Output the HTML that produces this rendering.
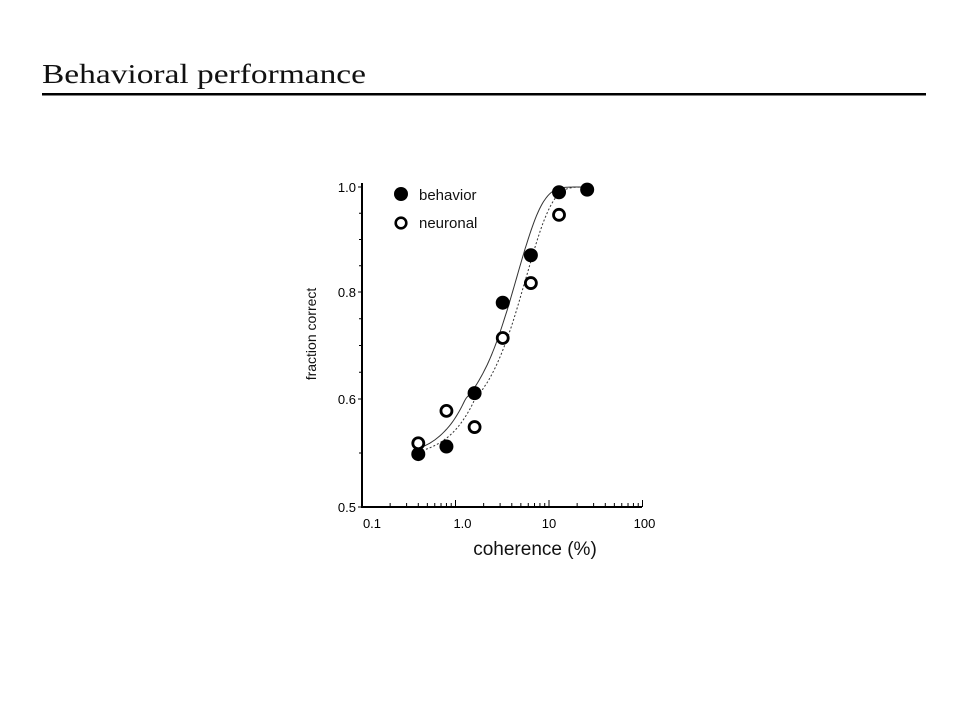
<!DOCTYPE html>
<html><head><meta charset="utf-8"><style>
html,body{margin:0;padding:0;background:#fff;}
svg{display:block;}
</style></head><body>
<svg id="chart" width="960" height="720" viewBox="0 0 960 720" xmlns="http://www.w3.org/2000/svg">
<text x="42" y="83" font-family="Liberation Serif, serif" font-size="27" fill="#111" textLength="324" lengthAdjust="spacingAndGlyphs">Behavioral performance</text>
<rect x="42" y="93" width="884" height="2.5" fill="#000"/>
<g id="plot"></g>
</svg>
<script>
const xTickValues = [0.1, 1, 10, 100];
const xTickLabels = ["0.1", "1.0", "10", "100"];
const yTickValues = [0.5, 0.6, 0.8, 1.0];
const yTickLabels = ["0.5", "0.6", "0.8", "1.0"];
const coherence = [0.4, 0.8, 1.6, 3.2, 6.4, 12.8, 25.6];
const behaviorValues = [0.549, 0.556, 0.611, 0.78, 0.87, 0.99, 0.995];
const neuronalCoherence = [0.4, 0.8, 1.6, 3.2, 6.4, 12.8];
const neuronalValues = [0.559, 0.589, 0.574, 0.714, 0.817, 0.947];
const behaviorFit = [4.6, 1.6];
const neuronalFit = [5.8, 1.6];

const NS = "http://www.w3.org/2000/svg";
const g = document.getElementById("plot");
const X0 = 362, DEC = 93.5;
function xScale(c){ return X0 + (Math.log10(c) + 1) * DEC; }
function yScale(v){
  const a=[[0.5,507],[0.6,399],[0.8,292],[1.0,187]];
  for(let i=0;i<a.length-1;i++){
    if(v<=a[i+1][0]||i===a.length-2){
      const t=(v-a[i][0])/(a[i+1][0]-a[i][0]);
      return a[i][1]+t*(a[i+1][1]-a[i][1]);
    }
  }
}
function mk(tag, attrs){ const e=document.createElementNS(NS,tag); for(const k in attrs) e.setAttribute(k,attrs[k]); g.appendChild(e); return e; }
const F = "Liberation Sans, sans-serif";

let ax = mk("line",{x1:X0,y1:183,x2:X0,y2:508,stroke:"#000","stroke-width":2});


ax = mk("line",{x1:X0-1,y1:507,x2:642,y2:507,stroke:"#000","stroke-width":2});



[0.55,0.65,0.7,0.75,0.85,0.9,0.95].forEach(v=>{
  const t=mk("line",{x1:X0-3,y1:yScale(v),x2:X0,y2:yScale(v),stroke:"#000","stroke-width":1});
  
  
});
yTickValues.forEach((v,i)=>{
  const t=mk("line",{x1:X0-4,y1:yScale(v),x2:X0,y2:yScale(v),stroke:"#000","stroke-width":1});
  
  
  const l=mk("text",{x:X0-6,y:yScale(v)+5,"text-anchor":"end","font-family":F,"font-size":13,fill:"#000"});
  l.textContent=yTickLabels[i];
  
  
});
for(let d=-1; d<2; d++){
  for(let m=2;m<10;m++){
    const c=m*Math.pow(10,d);
    const t=mk("line",{x1:xScale(c),y1:507,x2:xScale(c),y2:503,stroke:"#000","stroke-width":1});
    
    
  }
}
xTickValues.forEach((v,i)=>{
  const t=mk("line",{x1:xScale(v),y1:507,x2:xScale(v),y2:500,stroke:"#000","stroke-width":1});
  
  
  const l=mk("text",{x:xScale(v)+(i===0?10:(i===1?7:(i===3?2:0))),y:528,"text-anchor":"middle","font-family":F,"font-size":13,fill:"#000"});
  l.textContent=xTickLabels[i];
  
  
});
let yt=mk("text",{x:0,y:0,transform:"translate(316,334) rotate(-90)","text-anchor":"middle","font-family":F,"font-size":14,fill:"#111"});
yt.textContent="fraction correct";


let xt=mk("text",{x:535,y:555,"text-anchor":"middle","font-family":F,"font-size":19,fill:"#111"});
xt.textContent="coherence (%)";



function fitPath(p, c0, c1){
  let d="";
  for(let i=0;i<=120;i++){
    const c=c0*Math.pow(c1/c0,i/120);
    const v=0.545+0.455*(1-Math.exp(-Math.pow(c/p[0],p[1])));
    d+=(i?"L":"M")+xScale(c).toFixed(1)+","+yScale(v).toFixed(1);
  }
  return d;
}
let fb=mk("path",{d:fitPath(behaviorFit,0.4,25.6),fill:"none",stroke:"#333","stroke-width":1});


let fn=mk("path",{d:fitPath(neuronalFit,0.4,25.6),fill:"none",stroke:"#333","stroke-width":1,"stroke-dasharray":"2,2"});



coherence.forEach((c,i)=>{
  const p=mk("circle",{cx:xScale(c),cy:yScale(behaviorValues[i]),r:7,fill:"#000"});
  
  
});
neuronalCoherence.forEach((c,i)=>{
  const p=mk("circle",{cx:xScale(c),cy:yScale(neuronalValues[i]),r:5.5,fill:"#fff",stroke:"#000","stroke-width":2.8});
  
  
});

let lm=mk("circle",{cx:401,cy:194,r:7,fill:"#000"});


let lt=mk("text",{x:419,y:200,"font-family":F,"font-size":15,fill:"#111"});
lt.textContent="behavior";


let lm2=mk("circle",{cx:401,cy:223,r:5.3,fill:"#fff",stroke:"#000","stroke-width":2.6});


let lt2=mk("text",{x:419,y:228,"font-family":F,"font-size":15,fill:"#111"});
lt2.textContent="neuronal";


</script>
</body></html>
